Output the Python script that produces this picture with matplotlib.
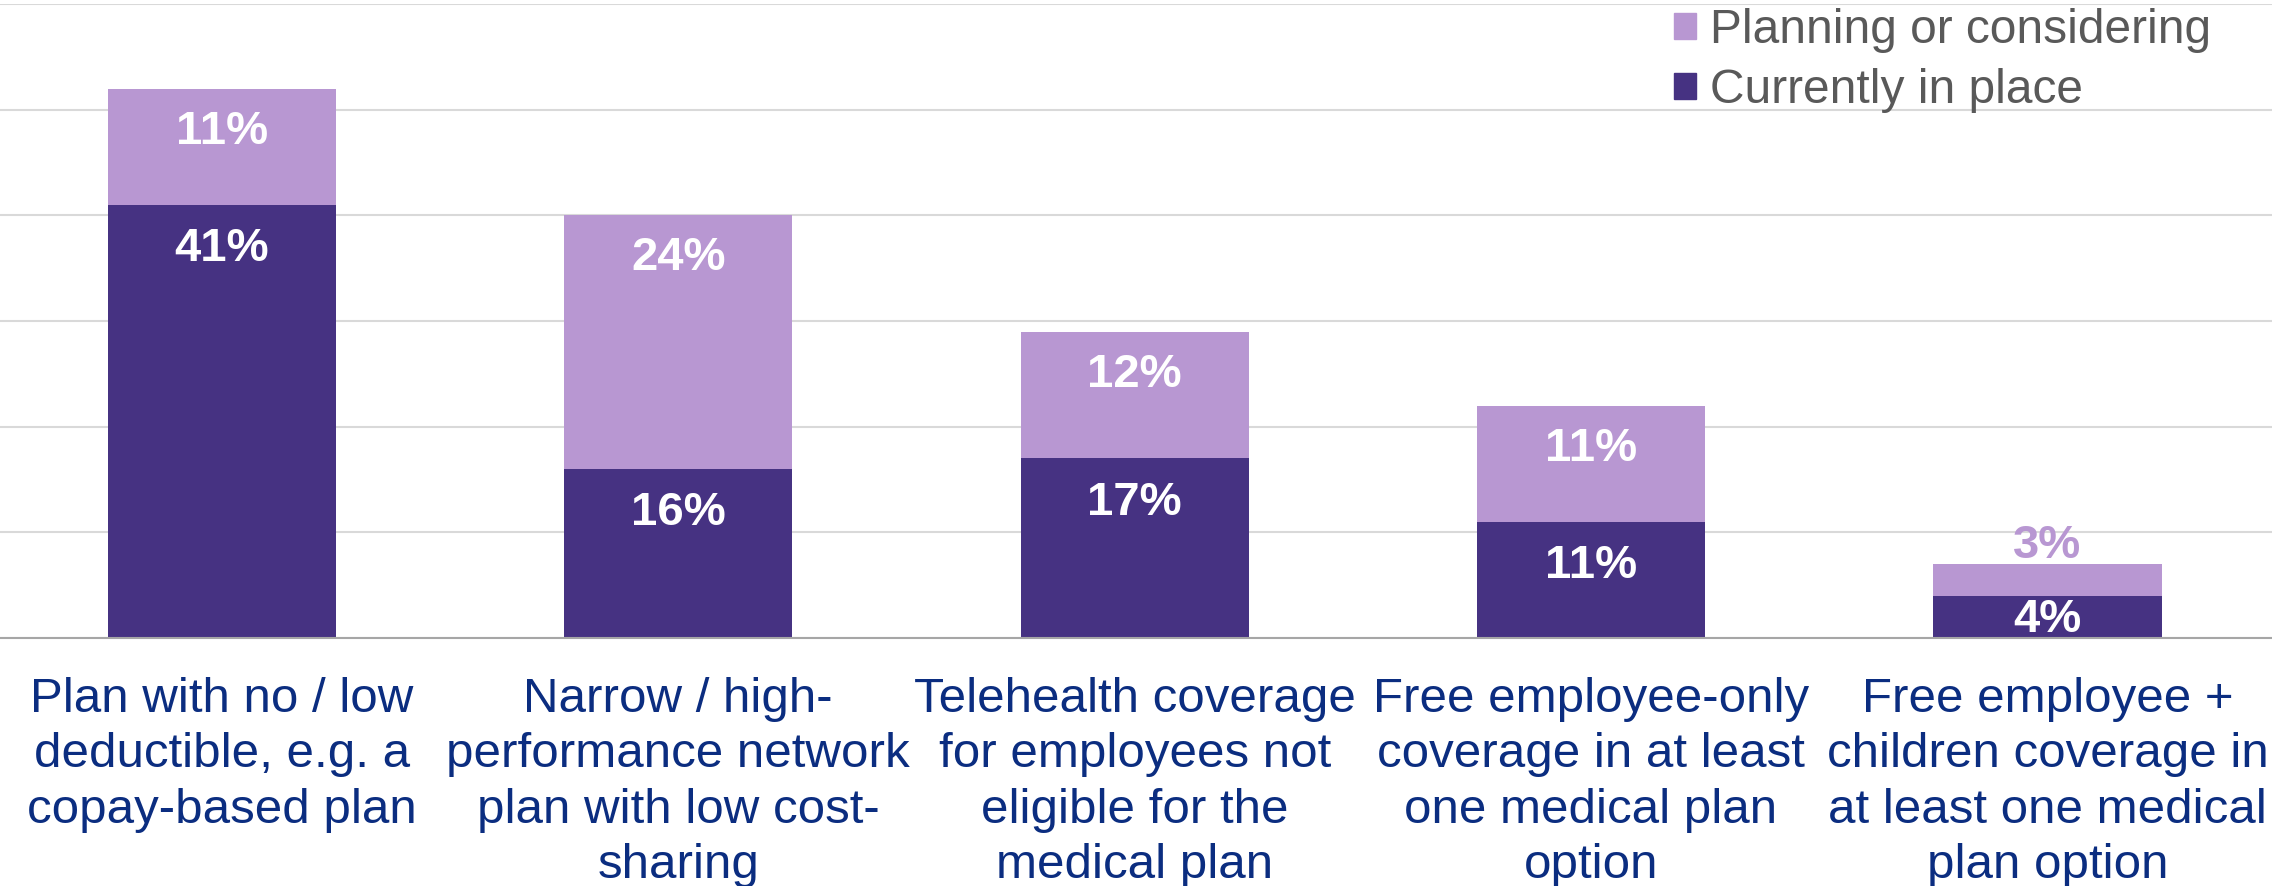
import matplotlib
matplotlib.use("Agg")
import matplotlib.pyplot as plt
from matplotlib.patches import Patch

# ── Data ──────────────────────────────────────────────────────────────────
categories = [
    "Plan with no / low\ndeductible, e.g. a\ncopay-based plan",
    "Narrow / high-\nperformance network\nplan with low cost-\nsharing",
    "Telehealth coverage\nfor employees not\neligible for the\nmedical plan",
    "Free employee-only\ncoverage in at least\none medical plan\noption",
    "Free employee +\nchildren coverage in\nat least one medical\nplan option",
]
currently_in_place = [41, 16, 17, 11, 4]
planning_or_considering = [11, 24, 12, 11, 3]

# ── Style ─────────────────────────────────────────────────────────────────
DARK   = "#463282"
LIGHT  = "#b897d2"
NAVY   = "#0b2d80"
GREY   = "#595959"
GRID   = "#d9d9d9"
plt.rcParams["font.family"] = ["Liberation Sans", "DejaVu Sans"]

W, H = 2272, 886
fig = plt.figure(figsize=(W / 100, H / 100), dpi=100, facecolor="white")
ax = fig.add_axes([0, 1 - 638 / H, 1, (638 - 4) / H])

x = list(range(len(categories)))
ax.bar(x, currently_in_place, width=0.5, color=DARK, zorder=2)
ax.bar(x, planning_or_considering, width=0.5, bottom=currently_in_place,
       color=LIGHT, zorder=2)

ax.set_xlim(-0.486, 4.492)
ax.set_ylim(0, 60)
ax.set_yticks(range(0, 61, 10))
ax.yaxis.grid(True, color=GRID, linewidth=1.5, zorder=0)
ax.tick_params(axis="y", length=0, labelleft=False)
ax.tick_params(axis="x", length=0, pad=28, labelsize=35.5, labelcolor=NAVY)
ax.set_xticks(x)
ax.set_xticklabels(categories, linespacing=1.3)
for s in ("left", "right", "top"):
    ax.spines[s].set_visible(False)
ax.spines["bottom"].set_color("#a6a6a6")
ax.spines["bottom"].set_linewidth(1.5)
ax.spines["bottom"].set_zorder(3)

# value labels
lbl = dict(ha="center", va="center", fontsize=34, fontweight="bold", zorder=4)
for i, (cur, plan) in enumerate(zip(currently_in_place, planning_or_considering)):
    if cur >= 6:
        ax.annotate(f"{cur}%", (i, cur), xytext=(0, -32), textcoords="offset points",
                    color="white", **lbl)
    else:
        ax.annotate(f"{cur}%", (i, cur / 2), xytext=(0, -2), textcoords="offset points",
                    color="white", **lbl)
    top = cur + plan
    if plan >= 6:
        ax.annotate(f"{plan}%", (i, top), xytext=(0, -31), textcoords="offset points",
                    color="white", **lbl)
    else:
        ax.annotate(f"{plan}%", (i, top), xytext=(0, 13), textcoords="offset points",
                    color=LIGHT, **lbl)

handles = [Patch(color=LIGHT, label="Planning or considering"),
           Patch(color=DARK, label="Currently in place")]
fig.legend(handles=handles, loc="upper left", bbox_to_anchor=(1674 / W, 1 - 8 / H),
           frameon=False, fontsize=34.5, labelcolor=GREY, handlelength=0.46,
           handleheight=0.46, handletextpad=0.3, labelspacing=0.32, borderpad=0,
           borderaxespad=0)

fig.savefig("out.png", dpi=100, facecolor="white")
